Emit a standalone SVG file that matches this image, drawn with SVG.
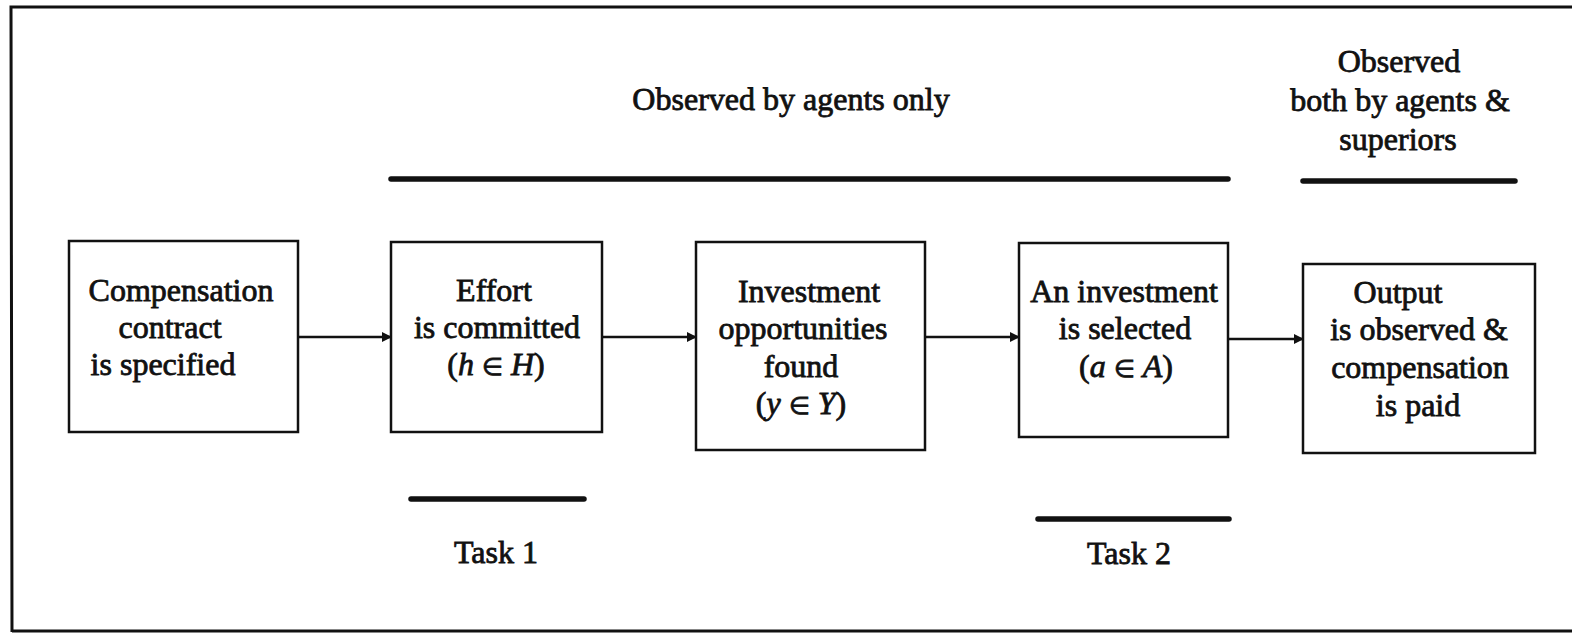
<svg xmlns="http://www.w3.org/2000/svg" width="1572" height="635" viewBox="0 0 1572 635">
<style>
.box{fill:#fff;stroke:#111;stroke-width:2.5}
.bar{stroke:#111;stroke-width:5.5;stroke-linecap:round}
.conn{stroke:#111;stroke-width:2.5;fill:none}
text{font-family:"Liberation Serif","Times New Roman",serif;font-size:32px;fill:#111;stroke:#111;stroke-width:0.8;text-anchor:middle}
.it{font-style:italic}
.el{font-size:24px}
</style>
<defs>
<marker id="ah" viewBox="0 0 10 10" refX="9" refY="5" markerWidth="10" markerHeight="10" markerUnits="userSpaceOnUse" orient="auto">
<path d="M0,0 L10,5 L0,10 z" fill="#111"/>
</marker>
</defs>
<rect width="1572" height="635" fill="#fff"/>
<path d="M12,632 L11,7 L1590,7" fill="none" stroke="#111" stroke-width="3"/>
<path d="M12,631 L1590,631" fill="none" stroke="#111" stroke-width="3"/>
<g id="annotations">
<line class="bar" x1="391" y1="179" x2="1228" y2="179"/>
<line class="bar" x1="1303" y1="181" x2="1515" y2="181"/>
<line class="bar" x1="411" y1="499" x2="584" y2="499"/>
<line class="bar" x1="1038" y1="519" x2="1229" y2="519"/>
<text x="791" y="110">Observed by agents only</text>
<text x="1399" y="72">Observed</text>
<text x="1400" y="111">both by agents &amp;</text>
<text x="1398" y="150">superiors</text>
<text x="496" y="563">Task 1</text>
<text x="1129" y="564">Task 2</text>
</g>
<g id="connectors">
<line class="conn" x1="298" y1="337" x2="391" y2="337" marker-end="url(#ah)"/>
<line class="conn" x1="602" y1="337" x2="696" y2="337" marker-end="url(#ah)"/>
<line class="conn" x1="925" y1="337" x2="1019" y2="337" marker-end="url(#ah)"/>
<line class="conn" x1="1228" y1="339" x2="1303" y2="339" marker-end="url(#ah)"/>
</g>
<g id="n1">
<rect class="box" x="69" y="241" width="229" height="191"/>
<text x="181" y="301">Compensation</text>
<text x="170" y="338">contract</text>
<text x="163" y="375">is specified</text>
</g>
<g id="n2">
<rect class="box" x="391" y="242" width="211" height="190"/>
<text x="494" y="301">Effort</text>
<text x="497" y="338">is committed</text>
<text x="496" y="375">(<tspan class="it">h</tspan> <tspan class="el">∈</tspan> <tspan class="it">H</tspan>)</text>
</g>
<g id="n3">
<rect class="box" x="696" y="242" width="229" height="208"/>
<text x="809" y="302">Investment</text>
<text x="803" y="339">opportunities</text>
<text x="801" y="377">found</text>
<text x="801" y="414">(<tspan class="it">y</tspan> <tspan class="el">∈</tspan> <tspan class="it">Y</tspan>)</text>
</g>
<g id="n4">
<rect class="box" x="1019" y="243" width="209" height="194"/>
<text x="1124" y="302">An investment</text>
<text x="1125" y="339">is selected</text>
<text x="1126" y="377">(<tspan class="it">a</tspan> <tspan class="el">∈</tspan> <tspan class="it">A</tspan>)</text>
</g>
<g id="n5">
<rect class="box" x="1303" y="264" width="232" height="189"/>
<text x="1398" y="303">Output</text>
<text x="1419" y="340">is observed &amp;</text>
<text x="1420" y="378">compensation</text>
<text x="1418" y="416">is paid</text>
</g>
</svg>
